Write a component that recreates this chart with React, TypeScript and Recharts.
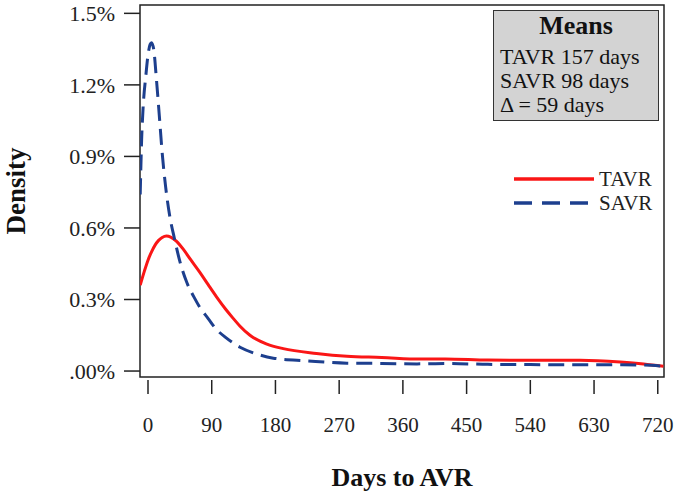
import { LineChart, Line, XAxis, YAxis, ReferenceArea, Legend } from 'recharts'

// days / density (%)
const tavrDays = [-11, -5, 0, 5, 10, 15, 20, 26, 32, 40, 50, 60, 73, 85, 97, 110, 120, 130, 144, 168, 191, 238, 281, 330, 384, 420, 480, 540, 610, 667, 700, 728]
const tavrDensity = [0.36, 0.42, 0.465, 0.5, 0.528, 0.548, 0.56, 0.566, 0.562, 0.545, 0.51, 0.468, 0.415, 0.362, 0.31, 0.258, 0.222, 0.188, 0.15, 0.113, 0.094, 0.074, 0.062, 0.057, 0.05, 0.051, 0.046, 0.045, 0.045, 0.038, 0.03, 0.02]

const savrDays = [-11, -9, -7, -3, 0, 3, 5, 8, 12, 16, 20, 25, 31, 37, 45, 55, 65, 73, 85, 95, 110, 130, 150, 177, 224, 281, 330, 380, 420, 480, 540, 610, 667, 700, 728]
const savrDensity = [0.74, 0.97, 1.1, 1.24, 1.325, 1.37, 1.377, 1.35, 1.22, 1.07, 0.916, 0.77, 0.645, 0.56, 0.46, 0.37, 0.31, 0.268, 0.22, 0.18, 0.14, 0.1, 0.075, 0.054, 0.043, 0.033, 0.032, 0.03, 0.032, 0.028, 0.027, 0.026, 0.026, 0.025, 0.02]

const xTicks = [0, 90, 180, 270, 360, 450, 540, 630, 720]
const yTicks = [0, 0.3, 0.6, 0.9, 1.2, 1.5]

const meanLines = ['TAVR 157 days', 'SAVR 98 days', '\u0394 = 59 days']

const tavr = tavrDays.map((d, i) => ({ day: d, v: tavrDensity[i] }))
const savr = savrDays.map((d, i) => ({ day: d, v: savrDensity[i] }))

const FONT = '"Liberation Serif", "Times New Roman", serif'
const RED = '#fa1616'
const BLUE = '#1d3f8e'

const XTick = (props: any) => {
  const { x, y, payload } = props
  return (
    <g>
      <line x1={x} x2={x} y1={y + 3} y2={y + 17} stroke="#222" strokeWidth={1.5} />
      <text x={x} y={y + 55} textAnchor="middle" fontFamily={FONT} fontSize={21} fill="#222">
        {payload.value}
      </text>
    </g>
  )
}

const fmtY = (v: number) => (v === 0 ? '.00%' : v.toFixed(1) + '%')

const LegendBox = () => (
  <div style={{ fontFamily: FONT, fontSize: 21, color: '#222' }}>
    {[
      { name: 'TAVR', color: RED, dash: undefined },
      { name: 'SAVR', color: BLUE, dash: '18 10' },
    ].map((s) => (
      <div key={s.name} style={{ display: 'flex', alignItems: 'center', height: 24 }}>
        <svg width={85} height={24}>
          <line x1={0} x2={80} y1={12} y2={12} stroke={s.color} strokeWidth={3.5} strokeDasharray={s.dash} />
        </svg>
        <span style={{ lineHeight: '24px' }}>{s.name}</span>
      </div>
    ))}
  </div>
)

export default function App() {
  return (
    <div style={{ position: 'absolute', left: 0, top: 0, width: 679, height: 496, background: '#fff' }}>
      <LineChart width={679} height={496} margin={{ top: 5, right: 15, left: 0, bottom: 0 }}>
        <XAxis
          type="number"
          dataKey="day"
          domain={[-11.3, 728.8]}
          ticks={xTicks}
          allowDataOverflow
          axisLine={false}
          tickLine={false}
          tickSize={0}
          tickMargin={0}
          height={119}
          tick={<XTick />}
          interval={0}
          label={{
            value: 'Days to AVR',
            position: 'insideBottom',
            offset: 10,
            style: { fontFamily: FONT, fontSize: 26, fontWeight: 'bold', fill: '#111' },
          }}
        />
        <YAxis
          type="number"
          domain={[-0.025, 1.535]}
          ticks={yTicks}
          allowDataOverflow
          width={140}
          axisLine={false}
          tickSize={16}
          tickMargin={9}
          tickLine={{ stroke: '#222', strokeWidth: 1.5 }}
          tickFormatter={fmtY}
          tick={{ fontFamily: FONT, fontSize: 22, fill: '#222' }}
          interval={0}
          label={{
            value: 'Density',
            angle: -90,
            position: 'insideLeft',
            offset: 15,
            style: { fontFamily: FONT, fontSize: 27, fontWeight: 'bold', fill: '#111', textAnchor: 'middle' },
          }}
        />
        <ReferenceArea
          x1={-11.3}
          x2={728.8}
          y1={-0.025}
          y2={1.535}
          fill="none"
          stroke="#222"
          strokeWidth={1.5}
          ifOverflow="visible"
        />
        <Line
          data={tavr}
          dataKey="v"
          name="TAVR"
          type="monotone"
          stroke={RED}
          strokeWidth={3}
          dot={false}
          isAnimationActive={false}
        />
        <Line
          data={savr}
          dataKey="v"
          name="SAVR"
          type="monotone"
          stroke={BLUE}
          strokeWidth={3}
          strokeDasharray="16 8"
          dot={false}
          isAnimationActive={false}
        />
        <Legend
          layout="horizontal"
          verticalAlign="middle"
          align="center"
          content={<LegendBox />}
          wrapperStyle={{ position: 'absolute', left: 514, top: 167, width: 'auto', bottom: 'auto' }}
        />
      </LineChart>
      <div
        style={{
          position: 'absolute',
          left: 493,
          top: 10,
          width: 166,
          height: 111,
          boxSizing: 'border-box',
          background: '#d3d3d3',
          border: '1.5px solid #333',
          fontFamily: FONT,
          color: '#111',
        }}
      >
        <div style={{ fontSize: 26, fontWeight: 'bold', lineHeight: '30px', textAlign: 'center', marginBottom: 4 }}>
          Means
        </div>
        {meanLines.map((t) => (
          <div key={t} style={{ fontSize: 22, lineHeight: '24px', paddingLeft: 6, whiteSpace: 'nowrap' }}>
            {t}
          </div>
        ))}
      </div>
    </div>
  )
}
